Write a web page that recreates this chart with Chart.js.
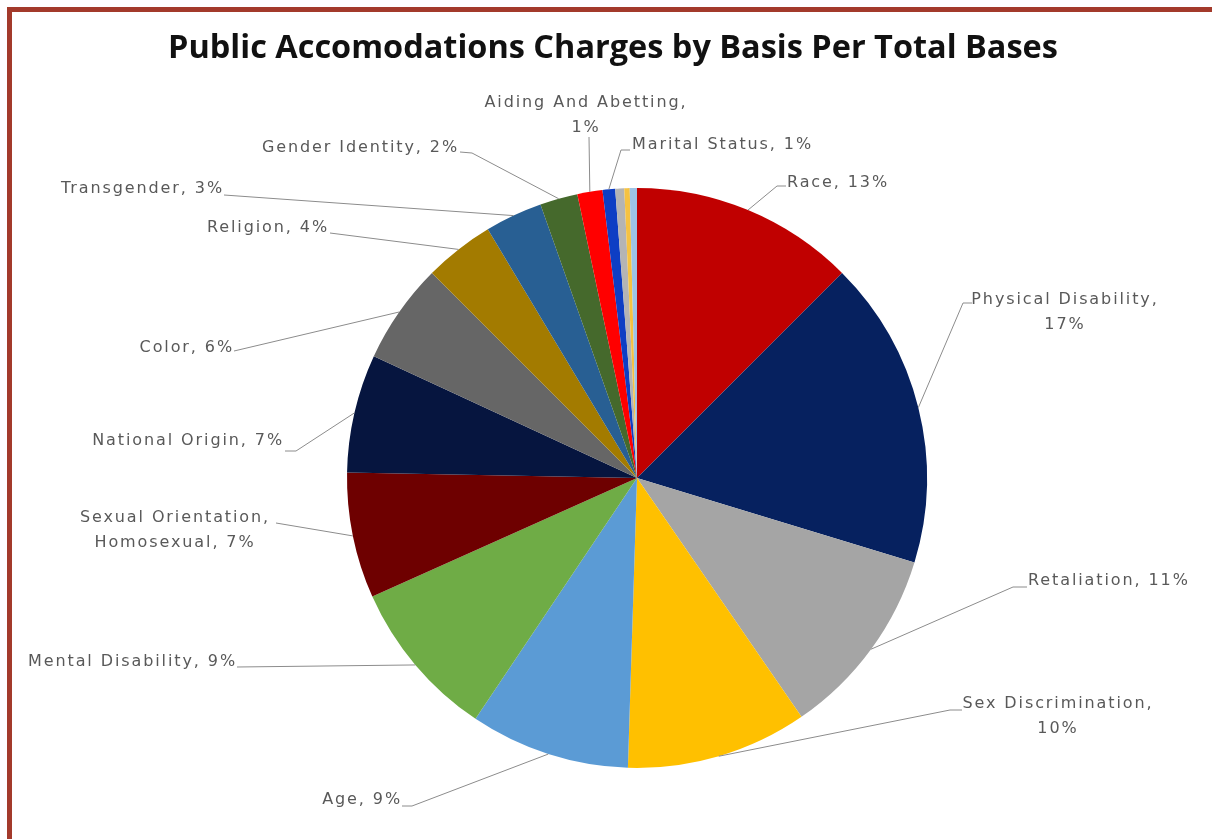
<!DOCTYPE html>
<html>
<head>
<meta charset="utf-8">
<script src="https://cdn.jsdelivr.net/npm/chart.js@4.4.1/dist/chart.umd.min.js"></script>
<style>
  html, body { margin: 0; padding: 0; background: #ffffff; }
  #wrap { position: absolute; left: 0; top: 0; width: 1212px; height: 839px; }
  #frame { position: absolute; left: 7px; top: 7px; width: 1205px; height: 832px;
           border-top: 5px solid #A33A2B; border-left: 5px solid #A33A2B; box-sizing: border-box; pointer-events: none; }
</style>
</head>
<body>
<div id="wrap"><canvas id="c" width="1212" height="839"></canvas></div>
<div id="frame"></div>
<script>
// ---- Data ----
const chartTitle = 'Public Accomodations Charges by Basis Per Total Bases';
const categories = ['Race', 'Physical Disability', 'Retaliation', 'Sex Discrimination', 'Age',
  'Mental Disability', 'Sexual Orientation, Homosexual', 'National Origin', 'Color', 'Religion',
  'Transgender', 'Gender Identity', 'Aiding And Abetting', 'Marital Status',
  'Other (unlabeled) A', 'Other (unlabeled) B', 'Other (unlabeled) C'];
const shares = [12.5, 17.2, 10.7, 10.1, 8.9, 8.9, 7.0, 6.6, 5.6, 3.9, 3.2, 2.1, 1.4, 0.7, 0.5, 0.3, 0.4];
const pctLabels = ['13%', '17%', '11%', '10%', '9%', '9%', '7%', '7%', '6%', '4%', '3%', '2%', '1%', '1%', null, null, null];
const sliceColors = ['#C00000', '#06215F', '#A5A5A5', '#FFC000', '#5B9BD5', '#6FAC46', '#6E0000',
  '#06153F', '#666666', '#A37B00', '#285F93', '#45692C', '#FF0000', '#0E3EC4', '#B4B4B4', '#F5C242', '#9DC3E6'];

// ---- Label layout (text placement & leader knees; the line end on the slice comes from the arc) ----
const labelLayout = [
  { lines: ['Race, 13%'], x: 787, y: 183, align: 'left', knees: [[786, 186], [777, 186]] },
  { lines: ['Physical Disability,', '17%'], x: 1065, y: 300, align: 'center', knees: [[972, 303], [963, 303]] },
  { lines: ['Retaliation, 11%'], x: 1028, y: 581, align: 'left', knees: [[1027, 587], [1013, 587]] },
  { lines: ['Sex Discrimination,', '10%'], x: 1058, y: 704, align: 'center', knees: [[962, 710], [950, 710]] },
  { lines: ['Age, 9%'], x: 402, y: 800, align: 'right', knees: [[402, 806], [412, 806]] },
  { lines: ['Mental Disability, 9%'], x: 237, y: 662, align: 'right', knees: [[237, 667]] },
  { lines: ['Sexual Orientation,', 'Homosexual, 7%'], x: 175, y: 518, align: 'center', knees: [[276, 523]] },
  { lines: ['National Origin, 7%'], x: 284, y: 441, align: 'right', knees: [[285, 451], [296, 451]] },
  { lines: ['Color, 6%'], x: 234, y: 348, align: 'right', knees: [[234, 351]] },
  { lines: ['Religion, 4%'], x: 329, y: 228, align: 'right', knees: [[330, 233]] },
  { lines: ['Transgender, 3%'], x: 224, y: 189, align: 'right', knees: [[224, 195]] },
  { lines: ['Gender Identity, 2%'], x: 459, y: 148, align: 'right', knees: [[460, 152], [472, 153]] },
  { lines: ['Aiding And Abetting,', '1%'], x: 586, y: 103, align: 'center', knees: [[589, 137]] },
  { lines: ['Marital Status, 1%'], x: 632, y: 145, align: 'left', knees: [[630, 150], [621, 150]] }
];

const LABEL_FONT = '16px "DejaVu Sans"';
const labelPlugin = {
  id: 'outsideLabels',
  afterDraw(chart) {
    const ctx = chart.ctx;
    const meta = chart.getDatasetMeta(0);
    ctx.save();
    // title
    ctx.fillStyle = '#111111';
    ctx.textAlign = 'center';
    ctx.textBaseline = 'middle';
    let ts = 30;
    ctx.font = 'bold ' + ts + 'px "Open Sans"';
    const w = ctx.measureText(chartTitle).width;
    ts = ts * 890 / w;
    ctx.font = 'bold ' + ts.toFixed(2) + 'px "Open Sans"';
    ctx.fillText(chartTitle, 613, 49);

    ctx.font = LABEL_FONT;
    labelLayout.forEach((lab, i) => {
      if (!pctLabels[i]) return;
      const arc = meta.data[i];
      const p = arc.getProps(['x', 'y', 'startAngle', 'endAngle', 'outerRadius'], true);
      const mid = (p.startAngle + p.endAngle) / 2;
      const ax = p.x + Math.cos(mid) * p.outerRadius;
      const ay = p.y + Math.sin(mid) * p.outerRadius;
      ctx.strokeStyle = '#8C8C8C';
      ctx.lineWidth = 1;
      ctx.letterSpacing = '0px';
      ctx.beginPath();
      lab.knees.forEach((k, j) => { if (j === 0) ctx.moveTo(k[0], k[1]); else ctx.lineTo(k[0], k[1]); });
      ctx.lineTo(ax, ay);
      ctx.stroke();
      ctx.fillStyle = '#595959';
      ctx.letterSpacing = '1.9px';
      ctx.textAlign = lab.align;
      ctx.textBaseline = 'middle';
      lab.lines.forEach((t, j) => ctx.fillText(t, lab.x, lab.y + j * 25));
    });
    ctx.restore();
  }
};

new Chart(document.getElementById('c'), {
  type: 'pie',
  data: {
    labels: categories,
    datasets: [{ data: shares, backgroundColor: sliceColors, borderWidth: 0, hoverOffset: 0 }]
  },
  options: {
    responsive: false,
    animation: false,
    layout: { padding: { left: 347, right: 285, top: 188, bottom: 71 } },
    plugins: { legend: { display: false }, tooltip: { enabled: false }, title: { display: false } }
  },
  plugins: [labelPlugin]
});
</script>
</body>
</html>
